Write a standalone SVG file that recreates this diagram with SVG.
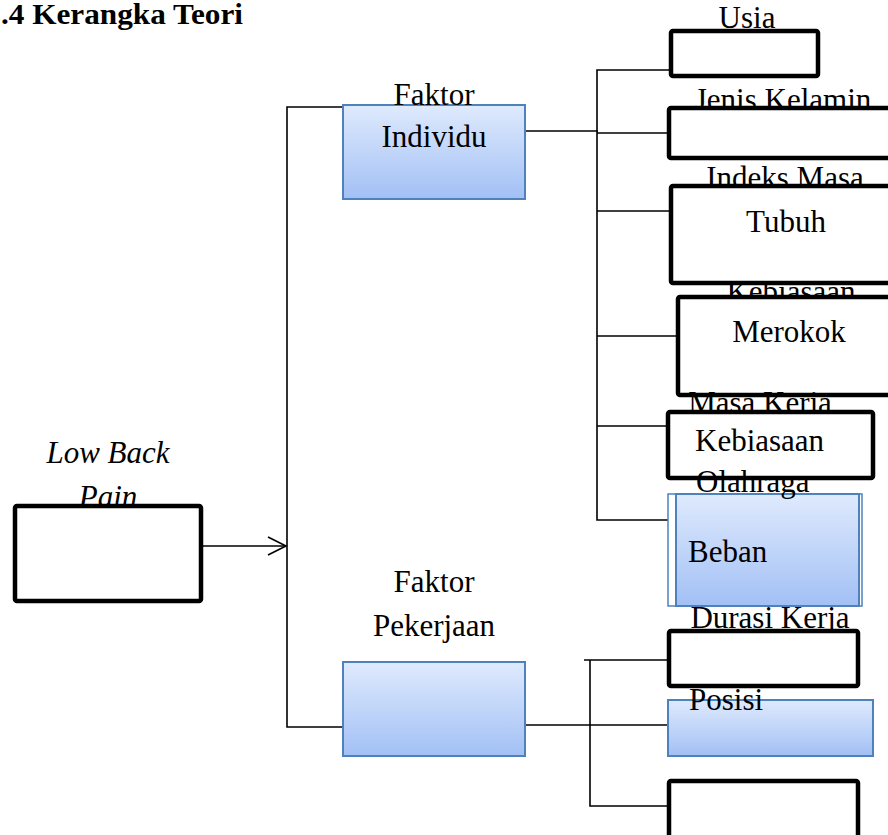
<svg xmlns="http://www.w3.org/2000/svg" width="888" height="835" viewBox="0 0 888 835">
<style>
text{font-family:"Liberation Serif","Times New Roman",serif;font-size:31px;fill:#000}
.t{font-weight:bold;font-size:29px}
.c{text-anchor:middle}
.bx{fill:#fff;stroke:#000;stroke-width:4.5}
.bl{fill:url(#g);stroke:#4f81bd;stroke-width:2}
.ln{fill:none;stroke:#000;stroke-width:1.6}
</style>
<defs>
<linearGradient id="g" x1="0" y1="0" x2="0" y2="1">
<stop offset="0" stop-color="#dfeafd"/>
<stop offset="1" stop-color="#a2c0f5"/>
</linearGradient>
</defs>
<rect width="888" height="835" fill="#fff"/>
<text class="t" x="1" y="24" textLength="242" lengthAdjust="spacingAndGlyphs">.4 Kerangka Teori</text>

<g id="connectors">
<path class="ln" d="M343,107 H287 V727 H343"/>
<path class="ln" d="M201,546 H286"/>
<path class="ln" d="M268,537 L286,546 L268,555"/>
<path class="ln" d="M525,131 H598"/>
<path class="ln" d="M670,70 H597 V520 H677"/>
<path class="ln" d="M597,133 H668"/>
<path class="ln" d="M597,211 H670"/>
<path class="ln" d="M597,336 H677"/>
<path class="ln" d="M597,426 H667"/>
<path class="ln" d="M525,725 H590"/>
<path class="ln" d="M584,660 H668"/>
<path class="ln" d="M590,660 V806 H668"/>
<path class="ln" d="M590,725 H668"/>
</g>

<g id="low-back-pain">
<text class="c" x="108" y="463" font-style="italic">Low Back</text>
<text class="c" x="108" y="507" font-style="italic">Pain</text>
<rect class="bx" x="15" y="506" width="186" height="95" rx="2" stroke-width="5"/>
</g>

<g id="faktor-individu">
<rect class="bl" x="343" y="105" width="182" height="94"/>
<text class="c" x="434" y="105">Faktor</text>
<text class="c" x="434" y="147">Individu</text>
</g>

<g id="usia">
<text class="c" x="747" y="28">Usia</text>
<rect class="bx" x="671" y="31" width="147" height="45" rx="2"/>
</g>

<g id="jenis-kelamin">
<text class="c" x="783" y="110">Jenis Kelamin</text>
<rect class="bx" x="669" y="108" width="240" height="50" rx="2"/>
</g>

<g id="kebiasaan-merokok">
<text class="c" x="791" y="302">Kebiasaan</text>
<rect class="bx" x="678" y="297" width="240" height="98" rx="2"/>
<text class="c" x="789" y="342">Merokok</text>
</g>

<g id="indeks-masa-tubuh">
<text class="c" x="785" y="188">Indeks Masa</text>
<rect class="bx" x="671" y="186" width="240" height="97" rx="2"/>
<text class="c" x="786" y="232">Tubuh</text>
</g>

<g id="beban">
<rect x="668" y="494" width="194" height="112" fill="#fff" stroke="#4f81bd" stroke-width="1.5"/>
<rect class="bl" x="676" y="494" width="183" height="112"/>
<text x="688" y="562">Beban</text>
</g>

<g id="masa-kerja-kebiasaan-olahraga">
<text class="c" x="760" y="413">Masa Kerja</text>
<rect class="bx" x="668" y="412" width="205" height="66" rx="2"/>
<text x="695" y="451">Kebiasaan</text>
<text x="696" y="492">Olahraga</text>
</g>

<g id="faktor-pekerjaan">
<text class="c" x="434" y="592">Faktor</text>
<text class="c" x="434" y="636">Pekerjaan</text>
<rect class="bl" x="343" y="662" width="182" height="94"/>
</g>

<g id="durasi-kerja">
<text class="c" x="770" y="628">Durasi Kerja</text>
<rect class="bx" x="669" y="631" width="189" height="55" rx="2"/>
</g>

<g id="posisi">
<rect class="bl" x="668" y="700" width="205" height="56"/>
<text x="689" y="710">Posisi</text>
</g>

<g id="bottom-box">
<rect class="bx" x="669" y="781" width="189" height="70" rx="2"/>
</g>
</svg>
